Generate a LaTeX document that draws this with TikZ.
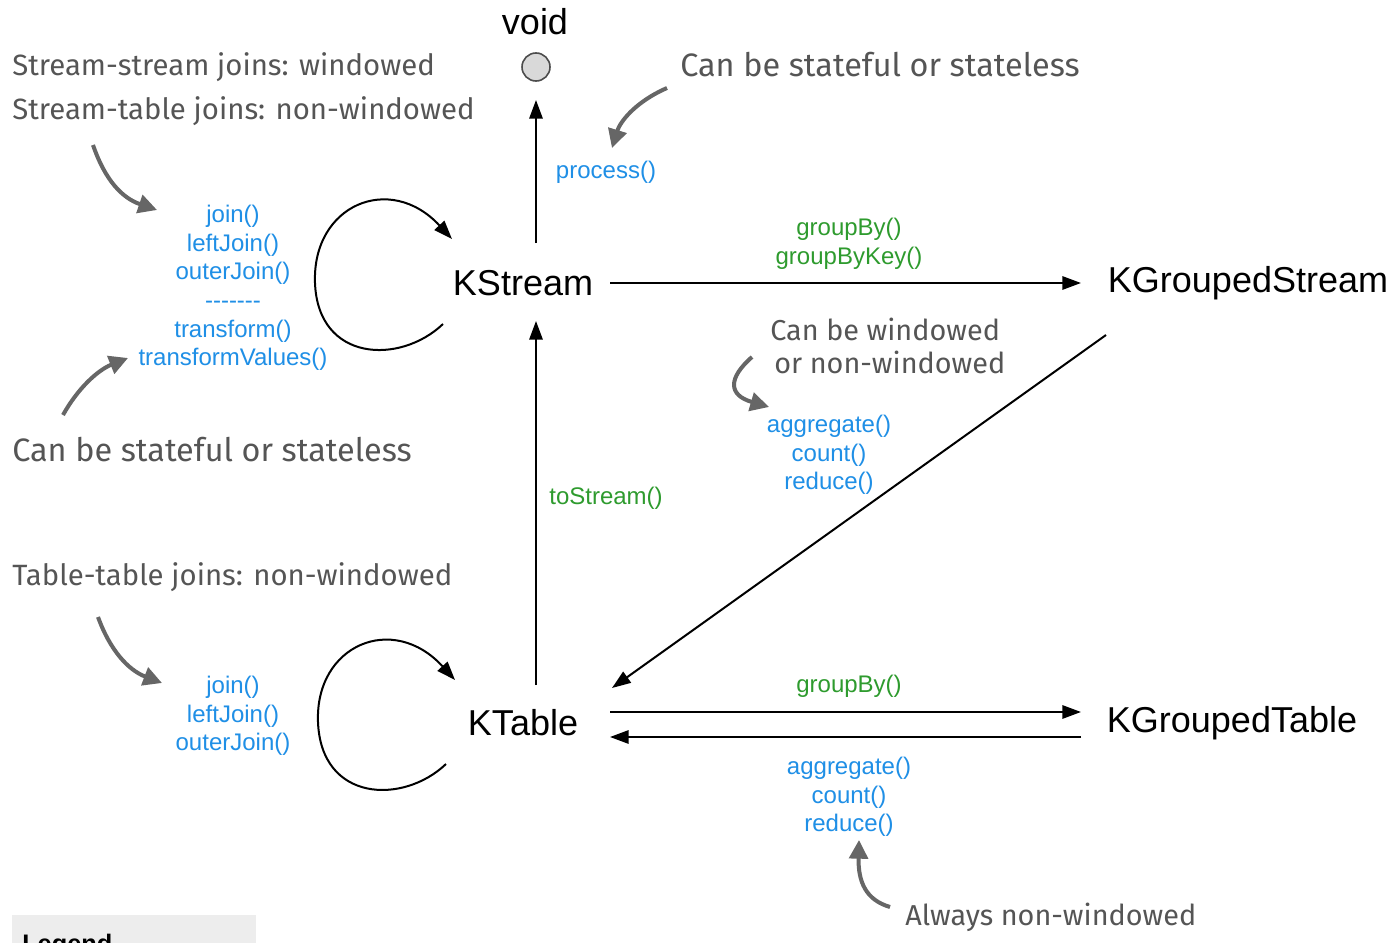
\documentclass[tikz,border=0pt]{standalone}
\usepackage{fontspec}
\setmainfont{Liberation Sans}
\newfontfamily\handfont{Fira Sans}
\usetikzlibrary{arrows.meta,calc}
\definecolor{opblue}{HTML}{1F8FE6}
\definecolor{opgreen}{HTML}{2E9B2E}
\definecolor{handgray}{HTML}{555555}
\definecolor{arrgray}{HTML}{666666}
\definecolor{legendbg}{HTML}{EDEDED}
\tikzset{
  main/.style={inner sep=0pt, font=\fontsize{27}{32}\selectfont, text=black},
  opb/.style={inner sep=0pt, align=center, text=opblue, font=\fontsize{18}{21.4}\selectfont},
  opg/.style={inner sep=0pt, align=center, text=opgreen, font=\fontsize{18}{21.4}\selectfont},
  hand/.style={inner sep=0pt, anchor=west, align=left, text=handgray, font=\handfont\fontsize{22}{33}\selectfont},
  handbig/.style={hand, font=\handfont\fontsize{24.3}{30}\selectfont},
  arr/.style={line width=1.5pt, -{Triangle[length=14pt,width=10pt]}},
  loopline/.style={line width=1.5pt, -{Triangle[length=14pt,width=10pt]}},
  note/.style={line width=3pt, arrgray, -{Triangle[length=14pt,width=14pt]}},
}
\begin{document}
\begin{tikzpicture}[x=0.75pt,y=-0.75pt]
\useasboundingbox (0,0) rectangle (1395,942);
\clip (0,0) rectangle (1395,942);
\fill[white] (0,0) rectangle (1395,942);

% main nodes
\node[main] (void) at (535,22) {void};
\node[circle, draw=black!70, fill=black!15, line width=1.2pt, minimum size=28pt*0.75, inner sep=0pt] (sink) at (536,67) {};
\node[main] (ks) at (523,283) {KStream};
\node[main] (kgs) at (1248,283) {KGroupedStream};
\node[main] (kt) at (523,723) {KTable};
\node[main] (kgt) at (1232,723) {KGroupedTable};

% op labels
\node[opb] (proc) at (606,172) {process()};
\node[opg] (gb1) at (849,244) {groupBy()\\groupByKey()};
\node[opb] (agg1) at (829,455) {aggregate()\\count()\\reduce()};
\node[opg] (tos) at (606,498) {toStream()};
\node[opg] (gb2) at (849,686) {groupBy()};
\node[opb] (agg2) at (849,797) {aggregate()\\count()\\reduce()};
\node[opb] (sjoin) at (233,288) {join()\\leftJoin()\\outerJoin()\\-{}-{}-{}-{}-{}-{}-\\transform()\\transformValues()};
\node[opb] (tjoin) at (233,716) {join()\\leftJoin()\\outerJoin()};

% handwritten notes
\node[hand] (n1) at (12,89) {Stream-stream joins: windowed\\Stream-table joins: non-windowed};
\node[handbig] (n2) at (680,65) {Can be stateful or stateless};
\node[handbig] (n3) at (12,450) {Can be stateful or stateless};
\node[hand] (n4) at (12,577) {Table-table joins: non-windowed};
\node[hand, font=\handfont\fontsize{21.6}{25}\selectfont] (n5) at (770,346) {Can be windowed\\\hspace*{3pt}or non-windowed};
\node[hand, font=\handfont\fontsize{21.6}{25}\selectfont] (n6) at (905,917) {Always non-windowed};

% connectors
\coordinate (ksTop) at (536,243);
\coordinate (sinkIn) at (536,100);
\draw[arr] (ksTop) -- (sinkIn);

\coordinate (ksR) at (610,283);
\coordinate (kgsL) at (1081,283);
\draw[arr] (ksR) -- (kgsL);

\coordinate (kgsD) at (1106,335);
\coordinate (ktUR) at (612,688);
\draw[arr] (kgsD) -- (ktUR);

\coordinate (ktTop) at (536,685);
\coordinate (ksBot) at (536,321);
\draw[arr] (ktTop) -- (ksBot);

\coordinate (ktR1) at (610,712);
\coordinate (kgtL1) at (1081,712);
\draw[arr] (ktR1) -- (kgtL1);
\coordinate (kgtL2) at (1081,737);
\coordinate (ktR2) at (610,737);
\draw[arr] (kgtL2) -- (ktR2);

% self loops
\coordinate (ksLoopA) at (443,324);
\coordinate (ksLoopB) at (452,239);
\draw[loopline] (ksLoopA) .. controls (400,365) and (318,362) .. (315,283)
  .. controls (312,205) and (390,172) .. (ksLoopB);
\coordinate (ktLoopA) at (446,764);
\coordinate (ktLoopB) at (455,680);
\draw[loopline] (ktLoopA) .. controls (403,805) and (321,802) .. (318,722)
  .. controls (315,645) and (393,612) .. (ktLoopB);

% note arrows
\coordinate (a1s) at (667,88);  \coordinate (a1e) at (612,148);
\draw[note] (a1s) .. controls (635,102) and (620,122) .. (a1e);
\coordinate (a2s) at (93,145);  \coordinate (a2e) at (157,210);
\draw[note] (a2s) .. controls (105,180) and (122,198) .. (a2e);
\coordinate (a3s) at (63,415);  \coordinate (a3e) at (128,358);
\draw[note] (a3s) .. controls (78,388) and (98,370) .. (a3e);
\coordinate (a4s) at (98,617);  \coordinate (a4e) at (162,683);
\draw[note] (a4s) .. controls (110,650) and (128,670) .. (a4e);
\coordinate (a5s) at (752,357); \coordinate (a5e) at (769,407);
\draw[note] (a5s) .. controls (728,378) and (728,395) .. (a5e);
\coordinate (a6s) at (890,907); \coordinate (a6e) at (859,840);
\draw[note] (a6s) .. controls (866,900) and (858,882) .. (a6e);

% legend (cut off at the lower edge, as in the reference)
\fill[legendbg] (12,915) rectangle (256,960);
\node[inner sep=0pt, anchor=base west, font=\bfseries\fontsize{19}{22}\selectfont] (leg) at (22,952) {Legend};
\end{tikzpicture}
\end{document}
